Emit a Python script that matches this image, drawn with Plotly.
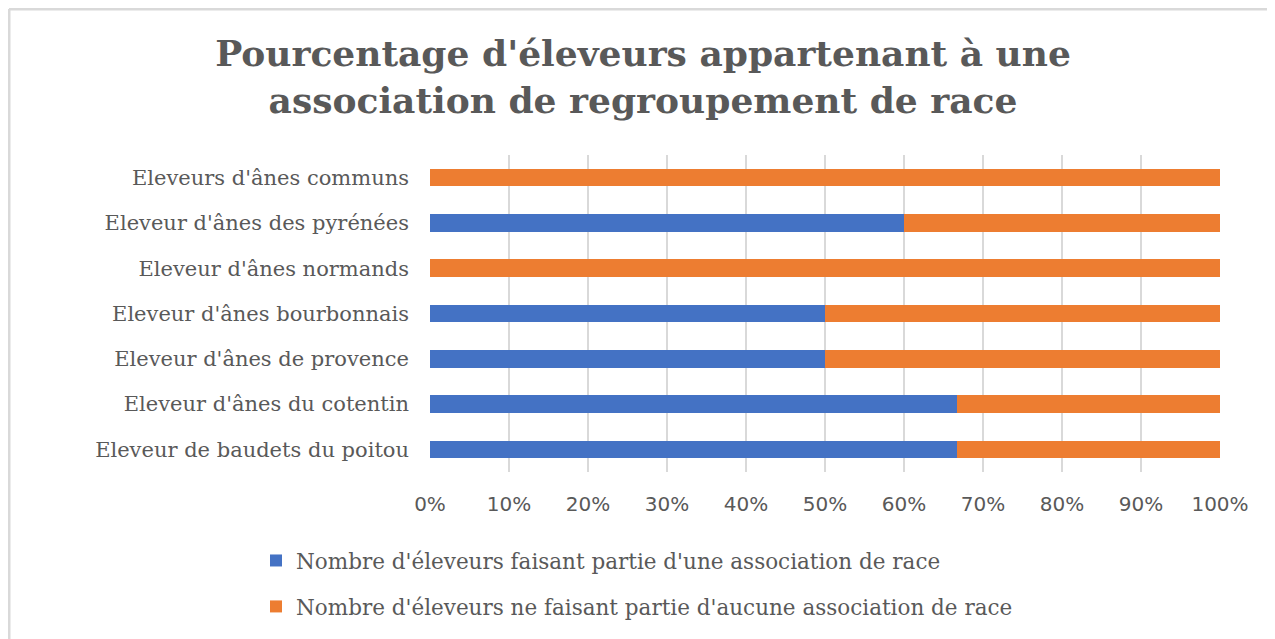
import plotly.graph_objects as go

categories = [
    "Eleveurs d'ânes communs",
    "Eleveur d'ânes des pyrénées",
    "Eleveur d'ânes normands",
    "Eleveur d'ânes bourbonnais",
    "Eleveur d'ânes de provence",
    "Eleveur d'ânes du cotentin",
    "Eleveur de baudets du poitou",
]
membres = [0.0, 0.60, 0.0, 0.50, 0.50, 0.667, 0.667]
non_membres = [1.0, 0.40, 1.0, 0.50, 0.50, 0.333, 0.333]
series_names = [
    "Nombre d'éleveurs faisant partie d'une association de race",
    "Nombre d'éleveurs ne faisant partie d'aucune association de race",
]
tick_vals = [i / 10 for i in range(11)]
tick_text = [f"{i*10}%" for i in range(11)]

# page has an 8px body margin; figure coordinates = page - 8
W, H = 1267, 631
L, R, T, B = 422, 55, 147, 167
pw, ph = W - L - R, H - T - B

fig = go.Figure()
fig.add_trace(go.Bar(y=categories, x=membres, orientation="h", name=series_names[0],
                     marker=dict(color="#4472C4", line=dict(width=0)), legendgroup="a"))
fig.add_trace(go.Bar(y=categories, x=non_membres, orientation="h", name=series_names[1],
                     marker=dict(color="#ED7D31", line=dict(width=0)), legendgroup="b"))

def px_x(p):
    return (p - L) / pw

def px_y(p):
    return (H - B - p) / ph

shapes = [
    dict(type="line", xref="paper", yref="paper", x0=px_x(1), x1=px_x(1300), y0=px_y(1), y1=px_y(1),
         line=dict(color="#D9D9D9", width=3)),
    dict(type="line", xref="paper", yref="paper", x0=px_x(1), x1=px_x(1), y0=px_y(1), y1=px_y(660),
         line=dict(color="#D9D9D9", width=3)),
]

fig.update_layout(
    width=W, height=H,
    margin=dict(l=L, r=R, t=T, b=B),
    barmode="stack",
    bargap=0.61,
    plot_bgcolor="white",
    paper_bgcolor="white",
    shapes=shapes,
    title=dict(
        text="Pourcentage d'éleveurs appartenant à une<br>association de regroupement de race",
        x=635 / W, xanchor="center", xref="container",
        y=1 - 58 / H, yanchor="top", yref="container",
        font=dict(family="DejaVu Serif", size=36, color="#595959", weight="bold"),
    ),
    xaxis=dict(
        range=[0, 1], tickvals=tick_vals, ticktext=tick_text,
        showgrid=True, gridcolor="#D9D9D9", gridwidth=1.5,
        zeroline=False, showline=False, ticks="",
        tickfont=dict(family="DejaVu Sans", size=20, color="#595959"),
        ticklabelstandoff=18, fixedrange=True,
    ),
    yaxis=dict(
        categoryorder="array", categoryarray=categories, autorange="reversed",
        showgrid=False, zeroline=False, showline=False, ticks="",
        tickfont=dict(family="DejaVu Serif", size=21, color="#595959"),
        ticklabelstandoff=20,
    ),
    legend=dict(
        orientation="v", x=px_x(248), xanchor="left", y=px_y(532), yanchor="top",
        traceorder="grouped", tracegroupgap=15,
        font=dict(family="DejaVu Serif", size=21.5, color="#595959"),
    ),
    showlegend=True,
)

fig.write_html("out.html")
